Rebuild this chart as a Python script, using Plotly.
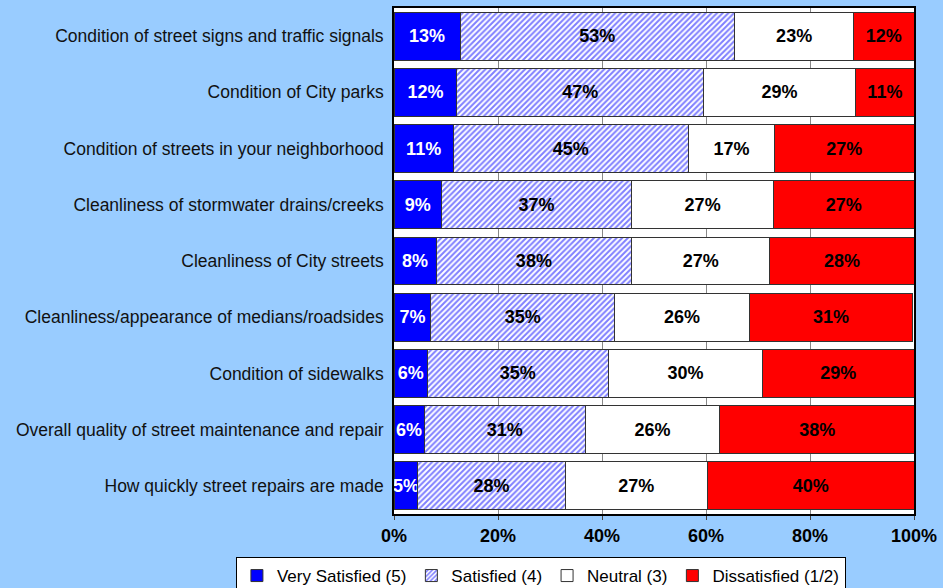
import plotly.graph_objects as go

# Survey items (top to bottom)
items = [
    "Condition of street signs and traffic signals",
    "Condition of City parks",
    "Condition of streets in your neighborhood",
    "Cleanliness of stormwater drains/creeks",
    "Cleanliness of City streets",
    "Cleanliness/appearance of medians/roadsides",
    "Condition of sidewalks",
    "Overall quality of street maintenance and repair",
    "How quickly street repairs are made",
]

very_satisfied = [12.7, 12.1, 11.4, 9.1, 8.1, 7.1, 6.4, 5.8, 4.6]
satisfied = [52.8, 47.4, 45.2, 36.6, 37.6, 35.3, 34.8, 31.0, 28.3]
neutral = [22.9, 29.3, 16.6, 27.3, 26.6, 26.0, 29.7, 25.8, 27.4]
dissatisfied = [11.6, 11.2, 26.8, 27.0, 27.7, 31.3, 29.1, 37.6, 39.7]

tick_vals = [0, 20, 40, 60, 80, 100]
tick_text = ["0%", "20%", "40%", "60%", "80%", "100%"]

FONT = "Liberation Sans, Arial, sans-serif"


def bar_trace(name, values, fill, text_color, pattern=None):
    return go.Bar(
        y=items,
        x=values,
        name=name,
        orientation="h",
        marker=dict(color=fill, line=dict(color="#333333", width=1), pattern=pattern),
        texttemplate="%{x:.0f}%",
        textposition="inside",
        insidetextanchor="middle",
        constraintext="none",
        textangle=0,
        textfont=dict(family=FONT, size=18, color=text_color, weight="bold"),
        hoverinfo="skip",
    )


fig = go.Figure()
fig.add_trace(bar_trace("Very Satisfied (5)", very_satisfied, "#0000FF", "white"))
fig.add_trace(bar_trace(
    "Satisfied (4)", satisfied, "white", "black",
    pattern=dict(shape="/", fgcolor="#0000FF", bgcolor="white", size=4, solidity=0.5),
))
fig.add_trace(bar_trace("Neutral (3)", neutral, "white", "black"))
fig.add_trace(bar_trace("Dissatisfied (1/2)", dissatisfied, "#FF0000", "black"))

fig.update_layout(
    barmode="stack",
    bargap=0.15,
    width=943,
    height=588,
    paper_bgcolor="#99CCFF",
    plot_bgcolor="white",
    margin=dict(l=394, r=29, t=8, b=74, autoexpand=False),
    font=dict(family=FONT, size=15, color="black"),
    legend=dict(
        orientation="h",
        x=-0.304, y=-0.085,
        xanchor="left", yanchor="top",
        bgcolor="white",
        bordercolor="black",
        borderwidth=1,
        font=dict(family=FONT, size=17),
        itemwidth=30,
        traceorder="normal",
    ),
    xaxis=dict(
        range=[0, 100],
        tickmode="array",
        tickvals=tick_vals,
        ticktext=tick_text,
        tickfont=dict(family=FONT, size=18, color="black", weight="bold"),
        showgrid=True,
        gridcolor="#888888",
        gridwidth=1,
        showline=True,
        linecolor="black",
        linewidth=2,
        mirror=True,
        ticks="outside",
        ticklen=4,
        zeroline=False,
        automargin=False,
    ),
    yaxis=dict(
        autorange="reversed",
        showline=True,
        linecolor="black",
        linewidth=2,
        mirror=True,
        ticks="",
        ticksuffix=" ",
        tickfont=dict(family=FONT, size=17.5, color="#111111"),
        automargin=False,
    ),
)

# drop the browser's default page margin so the figure fills the window
fig.write_html(
    "out.html",
    config={"displayModeBar": False},
    post_script="document.body.style.margin='0';",
)
